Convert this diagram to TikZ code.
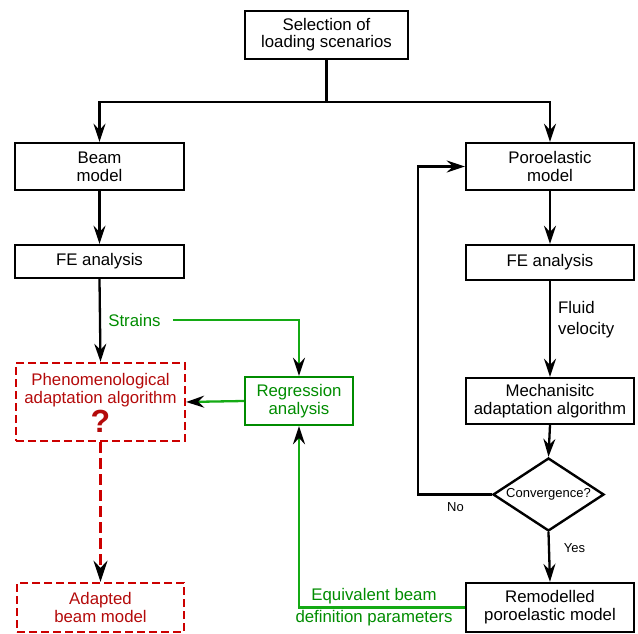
\documentclass[tikz,border=0pt]{standalone}
\usepackage{fontspec}
\setmainfont{Liberation Sans}
\usetikzlibrary{arrows.meta,shapes.geometric}
\definecolor{lgreen}{RGB}{20,170,20}
\definecolor{dgreen}{RGB}{0,140,0}
\definecolor{bred}{RGB}{204,0,0}
\definecolor{tred}{RGB}{180,10,10}
\begin{document}
\begin{tikzpicture}[x=1pt,y=-1pt,
  font=\fontsize{16.8}{18}\selectfont,
  box/.style={draw, line width=2.4pt, align=center, inner sep=0pt},
  gbox/.style={box, draw=dgreen, text=dgreen},
  rbox/.style={draw=bred, line width=2.4pt, dash pattern=on 8pt off 4pt, inner sep=0pt},
  rtext/.style={text=tred, align=center, inner sep=0pt},
  conn/.style={line width=2.3pt, -{Stealth[length=18pt,width=12pt,inset=6pt,color=black]}},
  plain/.style={line width=2.3pt},
  gconn/.style={conn, draw=lgreen},
  glabel/.style={text=dgreen, inner sep=0pt, align=center},
  small/.style={font=\fontsize{13}{14}\selectfont, inner sep=0pt}
]
\useasboundingbox (0,0) rectangle (638,634);

% nodes
\node[box, minimum width=163pt, minimum height=48pt, font=\fontsize{16.8}{17}\selectfont] (sel) at (326.5,35) {Selection of\\loading scenarios};
\node[box, minimum width=169pt, minimum height=47pt] (beam) at (99.5,166.5) {Beam\\model};
\node[box, minimum width=168pt, minimum height=47pt] (poro) at (550,166.5) {Poroelastic\\model};
\node[box, minimum width=169pt, minimum height=33pt] (fel) at (99.5,261.5) {FE analysis};
\node[box, minimum width=168pt, minimum height=35pt] (fer) at (550,262.5) {FE analysis};
\node[rbox, minimum width=169pt, minimum height=78pt] (phen) at (100.5,402) {};
\node[rtext] (phentxt) at (100.5,390) {Phenomenological\\adaptation algorithm};
\node[rtext, font=\fontsize{32}{32}\selectfont\bfseries] (q) at (100.5,421) {?};
\node[gbox, minimum width=108pt, minimum height=48pt] (regr) at (299,401) {Regression\\analysis};
\node[box, minimum width=168pt, minimum height=46pt] (mech) at (550,401) {Mechanisitc\\adaptation algorithm};
\node[diamond, aspect=1.52, draw, line width=2.4pt, minimum width=111pt, minimum height=73pt, inner sep=0pt, font=\fontsize{13}{14}\selectfont] (conv) at (548.5,494.5) {Convergence?};
\node[rbox, minimum width=167pt, minimum height=49pt] (adapt) at (100.5,607.5) {};
\node[rtext] (adapttxt) at (100.5,607.5) {Adapted\\beam model};
\node[box, minimum width=168pt, minimum height=49pt] (remod) at (550,607.5) {Remodelled\\poroelastic model};

% labels
\node[glabel] (strains) at (134.5,320) {Strains};
\node[glabel] (eq1) at (374,596) {Equivalent beam};
\node[glabel] (eq2) at (374,618) {definition parameters};
\node[inner sep=0pt, align=left, anchor=west] (fluid) at (558,320) {Fluid\\[3pt]velocity};
\node[small] (no) at (455.5,507) {No};
\node[small] (yes) at (574.5,548) {Yes};

\coordinate (split) at (326.5,102);
\coordinate (loopx) at (418,0);

% connectors
\draw[plain] (sel.south) -- (split);
\draw[conn] (split) -| (beam.north);
\draw[conn] (split) -| (poro.north);
\draw[conn] (beam.south) -- (fel.north);
\draw[conn] (fel.south) -- (phen.north);
\draw[conn] (poro.south) -- (fer.north);
\draw[conn] (fer.south) -- (mech.north);
\draw[conn] (mech.south) -- (conv.north);
\draw[conn] (conv.south) -- (remod.north);
\draw[conn] (conv.west) -- (conv.west -| loopx) |- (poro.west);
\draw[gconn] ([xshift=12pt]strains.east) -| (regr.north);
\draw[gconn] (regr.west) -- (phen.east);
\draw[gconn] (remod.west) -| (regr.south);
\draw[line width=3pt, draw=bred, dash pattern=on 11pt off 5pt, -{Stealth[length=21pt,width=14pt,inset=7pt,color=black]}] (phen.south) -- (adapt.north);
\end{tikzpicture}
\end{document}
